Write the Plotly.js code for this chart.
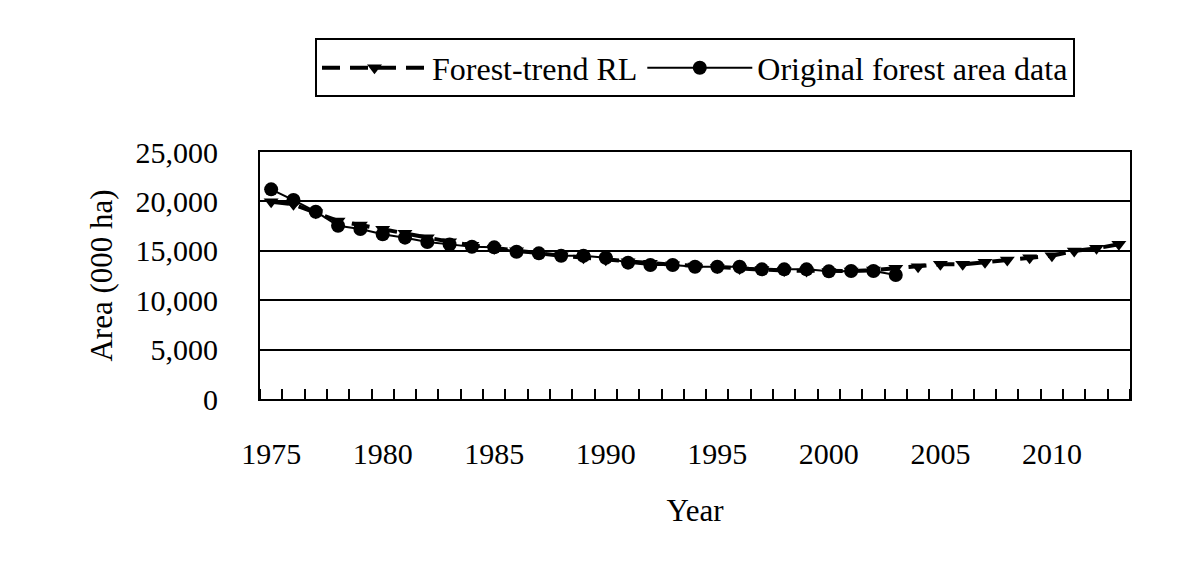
<!DOCTYPE html>
<html>
<head>
<meta charset="utf-8">
<script src="https://cdn.plot.ly/plotly-3.0.1.min.js"></script>
<style>
  body { margin: 0; background: #fff; }
  #chart { width: 1200px; height: 564px; }
</style>
</head>
<body>
<div id="chart"></div>
<script>
// years on the category axis
const trendYears = [1975, 1976, 1977, 1978, 1979, 1980, 1981, 1982, 1983, 1984,
    1985, 1986, 1987, 1988, 1989, 1990, 1991, 1992, 1993, 1994,
    1995, 1996, 1997, 1998, 1999, 2000, 2001, 2002, 2003, 2004,
    2005, 2006, 2007, 2008, 2009, 2010, 2011, 2012, 2013]
const originalYears = trendYears.slice(0, 29)

// Forest-trend RL (000 ha)
const trendArea = [19970, 19700, 18850, 18020, 17610, 17170, 16770, 16330, 15920, 15550,
    15250, 15000, 14750, 14500, 14300, 14100, 13900, 13750, 13600, 13450,
    13300, 13200, 13100, 13000, 12950, 12900, 12950, 13050, 13230, 13390,
    13630, 13630, 13830, 14070, 14300, 14500, 14980, 15250, 15660]

// Original forest area data (000 ha)
const originalArea = [21220, 20140, 18960, 17540, 17200, 16670, 16330, 15890, 15650, 15415,
    15350, 14910, 14740, 14500, 14500, 14300, 13800, 13560, 13560, 13390,
    13390, 13390, 13120, 13120, 13120, 12920, 12960, 12960, 12550]

const font = {family: 'Liberation Serif, Times New Roman, serif', color: '#000', size: 30}

const trendTrace = {
    x: trendYears,
    y: trendArea,
    type: 'scatter',
    mode: 'lines+markers',
    name: 'Forest-trend RL',
    line: {color: '#000', width: 4, dash: '18px,10px'},
    marker: {symbol: 'triangle-down', size: 13, color: '#000'},
}

const originalTrace = {
    x: originalYears,
    y: originalArea,
    type: 'scatter',
    mode: 'lines+markers',
    name: 'Original forest area data',
    line: {color: '#000', width: 2},
    marker: {symbol: 'circle', size: 14, color: '#000'},
}

const layout = {
    width: 1200,
    height: 564,
    paper_bgcolor: '#fff',
    plot_bgcolor: '#fff',
    font: font,
    showlegend: true,
    legend: {
        orientation: 'h',
        x: 0.5, xanchor: 'center',
        y: 1.46, yanchor: 'top',
        bordercolor: '#000',
        borderwidth: 2,
        font: {family: font.family, size: 32, color: '#000'},
        traceorder: 'normal',
        itemwidth: 105,
    },
    margin: {l: 260, r: 70, t: 152, b: 165, pad: 0},
    xaxis: {
        range: [1974.5, 2013.5],
        tick0: 1975,
        dtick: 5,
        ticks: '',
        minor: {tick0: 1975.5, dtick: 1, ticks: 'inside', ticklen: 10, tickwidth: 2, tickcolor: '#000', showgrid: false},
        ticklabelstandoff: 27,
        showline: true, mirror: true, linecolor: '#000', linewidth: 2,
        showgrid: false, zeroline: false,
        title: {text: 'Year', font: {family: font.family, size: 31}, standoff: 30},
    },
    yaxis: {
        range: [0, 25000],
        dtick: 5000,
        tickformat: ',d',
        ticks: '',
        ticklabelstandoff: 34,
        showline: true, mirror: true, linecolor: '#000', linewidth: 2,
        showgrid: true, gridcolor: '#000', gridwidth: 2,
        zeroline: false,
        title: {text: 'Area (000 ha)', font: {family: font.family, size: 31}, standoff: 14},
    },
}

Plotly.newPlot('chart', [trendTrace, originalTrace], layout, {displayModeBar: false, staticPlot: true})
</script>
</body>
</html>
